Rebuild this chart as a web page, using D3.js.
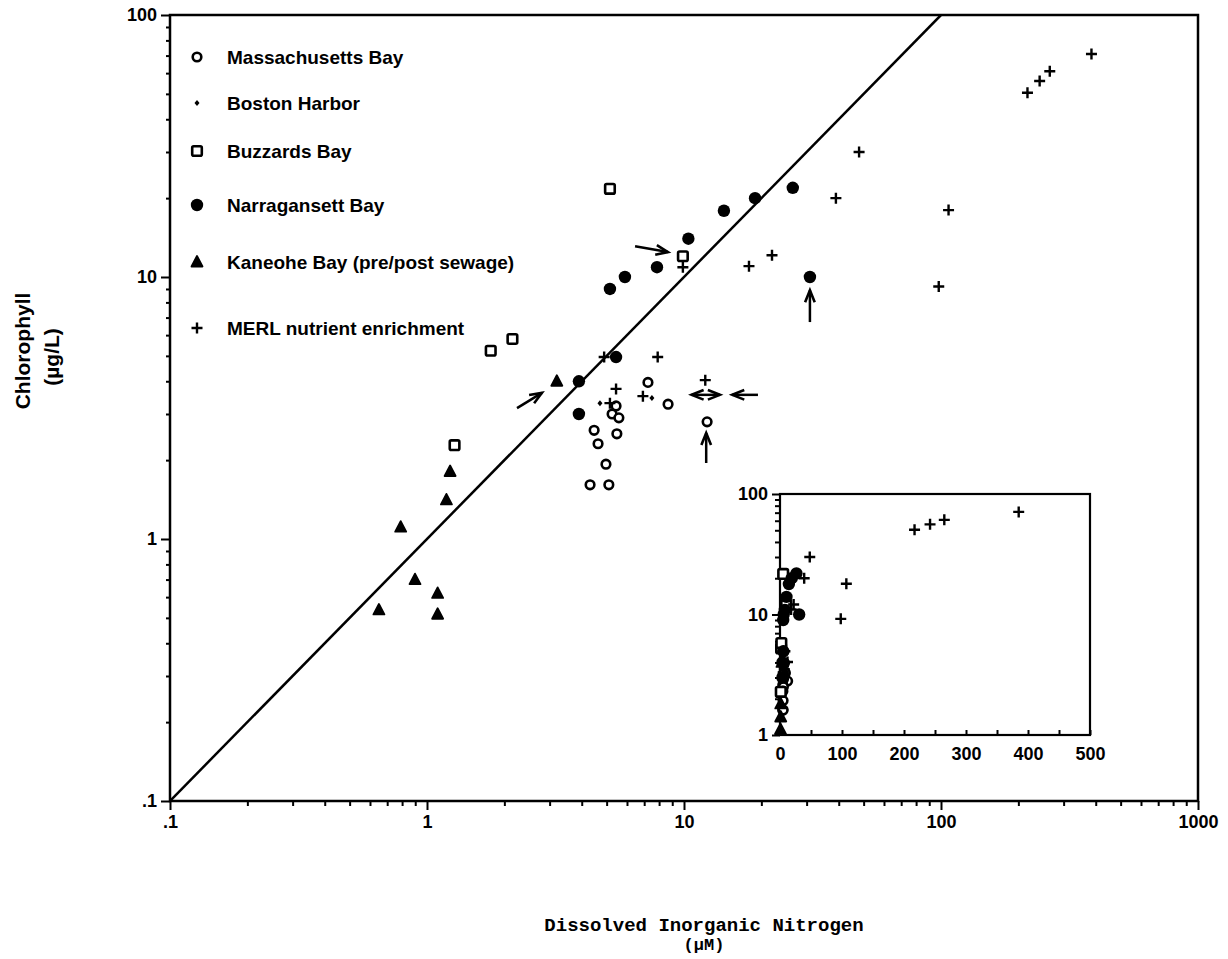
<!DOCTYPE html>
<html>
<head>
<meta charset="utf-8">
<script src="https://cdn.jsdelivr.net/npm/d3@7"></script>
<style>
  body { margin: 0; background: #fff; }
  text { fill: #000; }
</style>
</head>
<body>
<script>
// data
const massBayX = [7.24, 8.67, 12.3, 5.44, 5.25, 5.58, 4.47, 5.48, 4.63, 4.97, 4.31, 5.1];
const massBayY = [3.96, 3.27, 2.8, 3.22, 3.0, 2.9, 2.6, 2.52, 2.31, 1.93, 1.61, 1.61];

const bostonX = [4.71, 7.5];
const bostonY = [3.3, 3.45];

const buzzardsX = [1.28, 1.77, 2.15, 5.15, 9.9];
const buzzardsY = [2.28, 5.23, 5.8, 21.7, 12.0];

const narraX = [3.9, 3.9, 5.15, 5.44, 5.89, 7.85, 10.4, 14.3, 18.9, 26.5, 30.9];
const narraY = [4.0, 3.0, 9.0, 4.95, 10.0, 10.9, 14.0, 17.9, 20.0, 21.9, 10.0];

const kaneoheX = [0.65, 0.79, 0.898, 1.10, 1.10, 1.19, 1.23, 3.2];
const kaneoheY = [0.536, 1.11, 0.70, 0.62, 0.516, 1.41, 1.81, 4.0];

const merlX = [4.89, 5.44, 5.15, 6.92, 7.9, 9.9, 12.1, 17.9, 22, 39, 48, 98, 107, 217, 242, 265, 385];
const merlY = [4.95, 3.74, 3.3, 3.51, 4.95, 10.9, 4.04, 11.0, 12.1, 20.0, 30.0, 9.2, 18.0, 50.5, 56, 61, 71];

const legendNames = ["Massachusetts Bay", "Boston Harbor", "Buzzards Bay", "Narragansett Bay",
  "Kaneohe Bay (pre/post sewage)", "MERL nutrient enrichment"];

// annotation arrows [x1, y1, x2, y2, heads]
const arrows = [
  [6.45, 13.1, 8.66, 12.45, "end"],
  [2.24, 3.16, 2.8, 3.61, "end"],
  [10.7, 3.55, 13.8, 3.55, "both"],
  [19.4, 3.55, 15.4, 3.55, "end"],
  [12.2, 1.95, 12.2, 2.54, "end"],
  [30.9, 6.73, 30.9, 8.9, "end"]
];

const xMajor = [0.1, 1, 10, 100, 1000];
const xMajorLabels = [".1", "1", "10", "100", "1000"];
const yMajor = [0.1, 1, 10, 100];
const yMajorLabels = [".1", "1", "10", "100"];
const insetXTicks = [0, 100, 200, 300, 400, 500];
const insetYTicks = [1, 10, 100];

var w = 1228;
var h = 959;

var svg = d3.select("body").append("svg").attr("width", w).attr("height", h);

var x = d3.scaleLog().domain([0.1, 1000]).range([170, 1198]);
var y = d3.scaleLog().domain([0.1, 100]).range([801, 15]);

const zip = (xs, ys) => xs.map((v, i) => [v, ys[i]]);

//minor ticks for log scales
function minors(lo, hi) {
  var out = [];
  for (var d = lo; d < hi; d *= 10) {
    for (var k = 2; k <= 9; k++) out.push(d * k);
  }
  return out;
}

var font = "'Liberation Sans', Arial, sans-serif";

//main axes
var xMinorAxis = d3.axisBottom(x).tickValues(minors(0.1, 1000)).tickSize(5).tickFormat("");
var xMajorAxis = d3.axisBottom(x).tickValues(xMajor).tickSize(9).tickPadding(5)
  .tickFormat((d, i) => xMajorLabels[i]);
var yMinorAxis = d3.axisLeft(y).tickValues(minors(0.1, 100)).tickSize(4).tickFormat("");
var yMajorAxis = d3.axisLeft(y).tickValues(yMajor).tickSize(9).tickPadding(4)
  .tickFormat((d, i) => yMajorLabels[i]);

function styleAxis(g, size) {
  g.select(".domain").remove();
  g.selectAll("line").attr("stroke", "#000").attr("stroke-width", 2);
  g.selectAll("text").attr("font-family", font).attr("font-weight", "bold")
    .attr("font-size", size).attr("fill", "#000");
}

svg.append("g").attr("transform", "translate(0,801)").call(xMinorAxis).call(styleAxis, 18);
svg.append("g").attr("transform", "translate(0,801)").call(xMajorAxis).call(styleAxis, 18);
svg.append("g").attr("transform", "translate(170,0)").call(yMinorAxis).call(styleAxis, 18);
svg.append("g").attr("transform", "translate(170,0)").call(yMajorAxis).call(styleAxis, 18);

svg.append("rect")
  .attr("x", 170).attr("y", 15).attr("width", 1028).attr("height", 786)
  .attr("fill", "none").attr("stroke", "#000").attr("stroke-width", 2.5);

//1:1 line
svg.append("clipPath").attr("id", "mainclip").append("rect")
  .attr("x", 170).attr("y", 15).attr("width", 1028).attr("height", 786);

svg.append("line")
  .attr("clip-path", "url(#mainclip)")
  .attr("x1", x(0.1)).attr("y1", y(0.1))
  .attr("x2", x(100)).attr("y2", y(100))
  .attr("stroke", "#000").attr("stroke-width", 2.5);

// marker drawers
function drawMarker(g, type, cx, cy) {
  if (type === "openCircle") {
    g.append("circle").attr("cx", cx).attr("cy", cy).attr("r", 4.3)
      .attr("fill", "#fff").attr("stroke", "#000").attr("stroke-width", 2.6);
  } else if (type === "dot") {
    g.append("path")
      .attr("d", `M${cx},${cy - 3} L${cx + 2.5},${cy} L${cx},${cy + 3} L${cx - 2.5},${cy} Z`)
      .attr("fill", "#000");
  } else if (type === "square") {
    g.append("rect").attr("x", cx - 4.8).attr("y", cy - 4.8).attr("width", 9.6).attr("height", 9.6)
      .attr("rx", 1.5).attr("fill", "#fff").attr("stroke", "#000").attr("stroke-width", 2.6);
  } else if (type === "filledCircle") {
    g.append("circle").attr("cx", cx).attr("cy", cy).attr("r", 6.2).attr("fill", "#000");
  } else if (type === "triangle") {
    g.append("path")
      .attr("d", `M${cx},${cy - 6} L${cx + 5.5},${cy + 4.5} L${cx - 5.5},${cy + 4.5} Z`)
      .attr("fill", "#000").attr("stroke", "#000").attr("stroke-width", 1.8)
      .attr("stroke-linejoin", "round");
  } else if (type === "plus") {
    g.append("path")
      .attr("d", `M${cx - 5.5},${cy} H${cx + 5.5} M${cx},${cy - 5.5} V${cy + 5.5}`)
      .attr("stroke", "#000").attr("stroke-width", 2.4);
  }
}

const series = [
  { type: "openCircle", pts: zip(massBayX, massBayY) },
  { type: "dot", pts: zip(bostonX, bostonY) },
  { type: "square", pts: zip(buzzardsX, buzzardsY) },
  { type: "filledCircle", pts: zip(narraX, narraY) },
  { type: "triangle", pts: zip(kaneoheX, kaneoheY) },
  { type: "plus", pts: zip(merlX, merlY) }
];

var pointsG = svg.append("g");
series.forEach(function (s) {
  s.pts.forEach(function (p) {
    drawMarker(pointsG, s.type, x(p[0]), y(p[1]));
  });
});

//arrows
function arrowHead(g, x1, y1, x2, y2) {
  var a = Math.atan2(y2 - y1, x2 - x1);
  var len = 13, spread = 0.38;
  var p1 = [x2 - len * Math.cos(a - spread), y2 - len * Math.sin(a - spread)];
  var p2 = [x2 - len * Math.cos(a + spread), y2 - len * Math.sin(a + spread)];
  g.append("path")
    .attr("d", `M${p1[0]},${p1[1]} L${x2},${y2} L${p2[0]},${p2[1]}`)
    .attr("fill", "none").attr("stroke", "#000").attr("stroke-width", 2.6);
}

var arrowG = svg.append("g");
arrows.forEach(function (d) {
  var x1 = x(d[0]), y1 = y(d[1]), x2 = x(d[2]), y2 = y(d[3]);
  arrowG.append("line").attr("x1", x1).attr("y1", y1).attr("x2", x2).attr("y2", y2)
    .attr("stroke", "#000").attr("stroke-width", 2.5);
  arrowHead(arrowG, x1, y1, x2, y2);
  if (d[4] === "both") arrowHead(arrowG, x2, y2, x1, y1);
});

//legend
var legendY = [57, 103, 151, 205, 262, 328];
var legend = svg.append("g");
legendNames.forEach(function (name, i) {
  drawMarker(legend, series[i].type, 197, legendY[i]);
  legend.append("text")
    .attr("x", 227).attr("y", legendY[i] + 7)
    .attr("font-family", font).attr("font-weight", "bold").attr("font-size", 19)
    .text(name);
});

//axis titles
svg.append("text")
  .attr("transform", "translate(30,351) rotate(-90)")
  .attr("text-anchor", "middle")
  .attr("font-family", font).attr("font-weight", "bold").attr("font-size", 21)
  .text("Chlorophyll");
svg.append("text")
  .attr("transform", "translate(59,357) rotate(-90)")
  .attr("text-anchor", "middle")
  .attr("font-family", font).attr("font-weight", "bold").attr("font-size", 21)
  .text("(µg/L)");

svg.append("text")
  .attr("x", 704).attr("y", 931)
  .attr("text-anchor", "middle")
  .attr("font-family", "'Liberation Mono', 'DejaVu Sans Mono', monospace")
  .attr("font-weight", "bold").attr("font-size", 19)
  .text("Dissolved Inorganic Nitrogen");
svg.append("text")
  .attr("x", 704).attr("y", 950)
  .attr("text-anchor", "middle")
  .attr("font-family", "'Liberation Mono', 'DejaVu Sans Mono', monospace")
  .attr("font-weight", "bold").attr("font-size", 17)
  .text("(µM)");

//inset, linear x
var ix = d3.scaleLinear().domain([0, 500]).range([780, 1090]);
var iy = d3.scaleLog().domain([1, 100]).range([735, 494]);

var inset = svg.append("g");
inset.append("rect")
  .attr("x", 780).attr("y", 494).attr("width", 310).attr("height", 241)
  .attr("fill", "#fff");

svg.append("clipPath").attr("id", "insetclip").append("rect")
  .attr("x", 774).attr("y", 488).attr("width", 322).attr("height", 253);

inset.append("g").attr("transform", "translate(0,735)")
  .call(d3.axisTop(ix).tickValues(d3.range(0, 501, 50)).tickSize(5).tickFormat(""))
  .call(styleAxis, 18);
inset.append("g").attr("transform", "translate(0,735)")
  .call(d3.axisBottom(ix).tickValues(insetXTicks).tickSize(0).tickPadding(12))
  .call(styleAxis, 18);
inset.append("g").attr("transform", "translate(780,0)")
  .call(d3.axisLeft(iy).tickValues(minors(1, 100)).tickSize(5).tickFormat(""))
  .call(styleAxis, 18);
inset.append("g").attr("transform", "translate(780,0)")
  .call(d3.axisLeft(iy).tickValues(insetYTicks).tickSize(8).tickPadding(4)
    .tickFormat(d3.format("d")))
  .call(styleAxis, 18);

inset.append("rect")
  .attr("x", 780).attr("y", 494).attr("width", 310).attr("height", 241)
  .attr("fill", "none").attr("stroke", "#000").attr("stroke-width", 2.2);

var insetPts = inset.append("g").attr("clip-path", "url(#insetclip)");
series.forEach(function (s) {
  s.pts.forEach(function (p) {
    if (p[1] < 1) return;
    drawMarker(insetPts, s.type, ix(p[0]), iy(p[1]));
  });
});
</script>
</body>
</html>
